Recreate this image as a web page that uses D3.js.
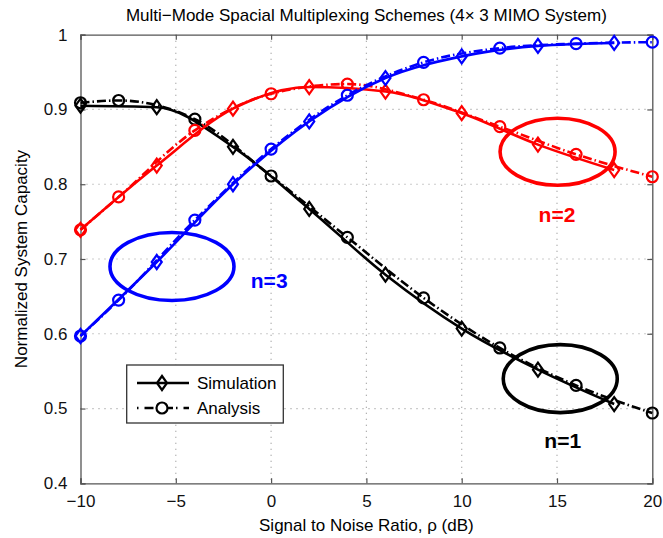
<!DOCTYPE html>
<html>
<head>
<script src="https://d3js.org/d3.v7.min.js"></script>
<style>
body { margin: 0; background: white; }
text { font-family: "Liberation Sans", Arial, sans-serif; }
</style>
</head>
<body>
<svg id="chart" width="663" height="538"></svg>
<script>
// x positions (dB)
const snrSim = [-10, -6, -2, 2, 6, 10, 14, 18];
const snrAna = [-10, -8, -4, 0, 4, 8, 12, 16, 20];

// n=1 (black)
const simN1 = [0.905, 0.903, 0.850, 0.767, 0.679, 0.607, 0.552, 0.506];
const anaN1 = [0.909, 0.912, 0.887, 0.811, 0.729, 0.648, 0.581, 0.531, 0.494];
// n=2 (red)
const simN2 = [0.739, 0.825, 0.901, 0.930, 0.924, 0.895, 0.853, 0.819];
const anaN2 = [0.739, 0.783, 0.872, 0.921, 0.934, 0.913, 0.877, 0.840, 0.810];
// n=3 (blue)
const simN3 = [0.597, 0.696, 0.800, 0.884, 0.942, 0.971, 0.985, 0.989];
const anaN3 = [0.597, 0.645, 0.752, 0.847, 0.919, 0.963, 0.982, 0.988, 0.990];

const xTicks = [-10, -5, 0, 5, 10, 15, 20];
const yTicks = [0.4, 0.5, 0.6, 0.7, 0.8, 0.9, 1];

const pLeft = 80.5, pRight = 652.3, pTop = 34.7, pBottom = 483.3;
const svg = d3.select("#chart");

var x = d3.scaleLinear().domain([-10, 20]).range([pLeft, pRight]);
var y = d3.scaleLinear().domain([0.4, 1]).range([pBottom, pTop]);

// grid
svg.append("g").selectAll("line").data(xTicks.slice(1, -1)).enter().append("line")
  .attr("x1", d => x(d)).attr("x2", d => x(d)).attr("y1", pTop).attr("y2", pBottom)
  .attr("stroke", "#999").attr("stroke-width", 1.2).attr("stroke-dasharray", "1,5");
svg.append("g").selectAll("line").data(yTicks.slice(1, -1)).enter().append("line")
  .attr("y1", d => y(d)).attr("y2", d => y(d)).attr("x1", pLeft).attr("x2", pRight)
  .attr("stroke", "#999").attr("stroke-width", 1.2).attr("stroke-dasharray", "1,5");

// axes, ticks inward on all sides
var xb = svg.append("g").attr("transform", "translate(0," + pBottom + ")")
  .call(d3.axisBottom(x).tickValues(xTicks).tickSize(-5).tickPadding(12)
    .tickFormat(d => d < 0 ? "\u2212" + Math.abs(d) : d));
var xt = svg.append("g").attr("transform", "translate(0," + pTop + ")")
  .call(d3.axisTop(x).tickValues(xTicks).tickSize(-5).tickFormat(""));
var yl = svg.append("g").attr("transform", "translate(" + pLeft + ",0)")
  .call(d3.axisLeft(y).tickValues(yTicks).tickSize(-5).tickPadding(13)
    .tickFormat(d => d == 1 ? "1" : d3.format(".1f")(d)));
var yr = svg.append("g").attr("transform", "translate(" + pRight + ",0)")
  .call(d3.axisRight(y).tickValues(yTicks).tickSize(-5).tickFormat(""));
[xb, xt, yl, yr].forEach(g => {
  g.select(".domain").attr("stroke", "#555").attr("stroke-width", 1.3);
  g.selectAll(".tick line").attr("stroke", "#555").attr("stroke-width", 1.2);
  g.selectAll("text").style("font-size", "17px").style("font-family", "Liberation Sans, Arial, sans-serif").attr("fill", "#111");
});
xb.selectAll(".tick text").attr("dy", "0.71em");

// series
var series = [
  {color: "#000000", sim: simN1, ana: anaN1},
  {color: "#ff0000", sim: simN2, ana: anaN2},
  {color: "#0000ff", sim: simN3, ana: anaN3}
];
var line = d3.line().x(d => x(d[0])).y(d => y(d[1])).curve(d3.curveMonotoneX);
var diamond = "M0,-7L5,0L0,7L-5,0Z";

series.forEach(s => {
  var simPts = snrSim.map((v, i) => [v, s.sim[i]]);
  var anaPts = snrAna.map((v, i) => [v, s.ana[i]]);
  var g = svg.append("g");
  g.append("path").datum(simPts).attr("d", line).attr("fill", "none")
    .attr("stroke", s.color).attr("stroke-width", 2.6);
  g.append("path").datum(anaPts).attr("d", line).attr("fill", "none")
    .attr("stroke", s.color).attr("stroke-width", 2.6).attr("stroke-dasharray", "9,3,1.5,3");
  g.selectAll("circle").data(anaPts).enter().append("circle")
    .attr("cx", d => x(d[0])).attr("cy", d => y(d[1])).attr("r", 5.5)
    .attr("fill", "none").attr("stroke", s.color).attr("stroke-width", 2.2);
  g.selectAll(".dia").data(simPts).enter().append("path").attr("class", "dia")
    .attr("transform", d => "translate(" + x(d[0]) + "," + y(d[1]) + ")")
    .attr("d", diamond).attr("fill", "none").attr("stroke", s.color).attr("stroke-width", 2.2);
});

// ellipses and labels (data coords)
var notes = [
  {cx: -5.2, cy: 0.69, rx: 62, ry: 34, color: "#0000ff", tx: -0.1, ty: 0.661, label: "n=3"},
  {cx: 15.03, cy: 0.8435, rx: 57.5, ry: 33.5, color: "#ff0000", tx: 15.0, ty: 0.750, label: "n=2"},
  {cx: 15.17, cy: 0.540, rx: 57, ry: 34, color: "#000000", tx: 15.3, ty: 0.447, label: "n=1"}
];
notes.forEach(n => {
  svg.append("ellipse").attr("cx", x(n.cx)).attr("cy", y(n.cy)).attr("rx", n.rx).attr("ry", n.ry)
    .attr("fill", "none").attr("stroke", n.color).attr("stroke-width", 3.6);
  svg.append("text").attr("x", x(n.tx)).attr("y", y(n.ty)).attr("text-anchor", "middle")
    .style("font-size", "21px").style("font-weight", "bold").attr("fill", n.color).text(n.label);
});

// legend
var lg = svg.append("g");
lg.append("rect").attr("x", 126.7).attr("y", 365).attr("width", 156.6).attr("height", 58)
  .attr("fill", "white").attr("stroke", "#333").attr("stroke-width", 1.3);
lg.append("line").attr("x1", 137).attr("x2", 189).attr("y1", 383).attr("y2", 383)
  .attr("stroke", "black").attr("stroke-width", 2.6);
lg.append("path").attr("transform", "translate(162,383)").attr("d", diamond)
  .attr("fill", "none").attr("stroke", "black").attr("stroke-width", 2.2);
lg.append("line").attr("x1", 137).attr("x2", 189).attr("y1", 408).attr("y2", 408)
  .attr("stroke", "black").attr("stroke-width", 2.6).attr("stroke-dasharray", "1.5,6,9,3");
lg.append("circle").attr("cx", 162).attr("cy", 408).attr("r", 5.5)
  .attr("fill", "white").attr("stroke", "black").attr("stroke-width", 2.2);
lg.append("text").attr("x", 197).attr("y", 383).attr("dy", "0.35em").style("font-size", "17px").text("Simulation");
lg.append("text").attr("x", 197).attr("y", 408).attr("dy", "0.35em").style("font-size", "17px").text("Analysis");

// title and axis labels
svg.append("text").attr("x", (pLeft + pRight) / 2).attr("y", 21).attr("text-anchor", "middle")
  .style("font-size", "17px").text("Multi\u2212Mode Spacial Multiplexing Schemes (4\u00d7 3 MIMO System)");
svg.append("text").attr("x", (pLeft + pRight) / 2).attr("y", 531).attr("text-anchor", "middle")
  .style("font-size", "17px").text("Signal to Noise Ratio, \u03c1 (dB)");
svg.append("text").attr("transform", "translate(27," + ((pTop + pBottom) / 2) + ") rotate(-90)")
  .attr("text-anchor", "middle").style("font-size", "17px").text("Normalized System Capacity");
</script>
</body>
</html>
